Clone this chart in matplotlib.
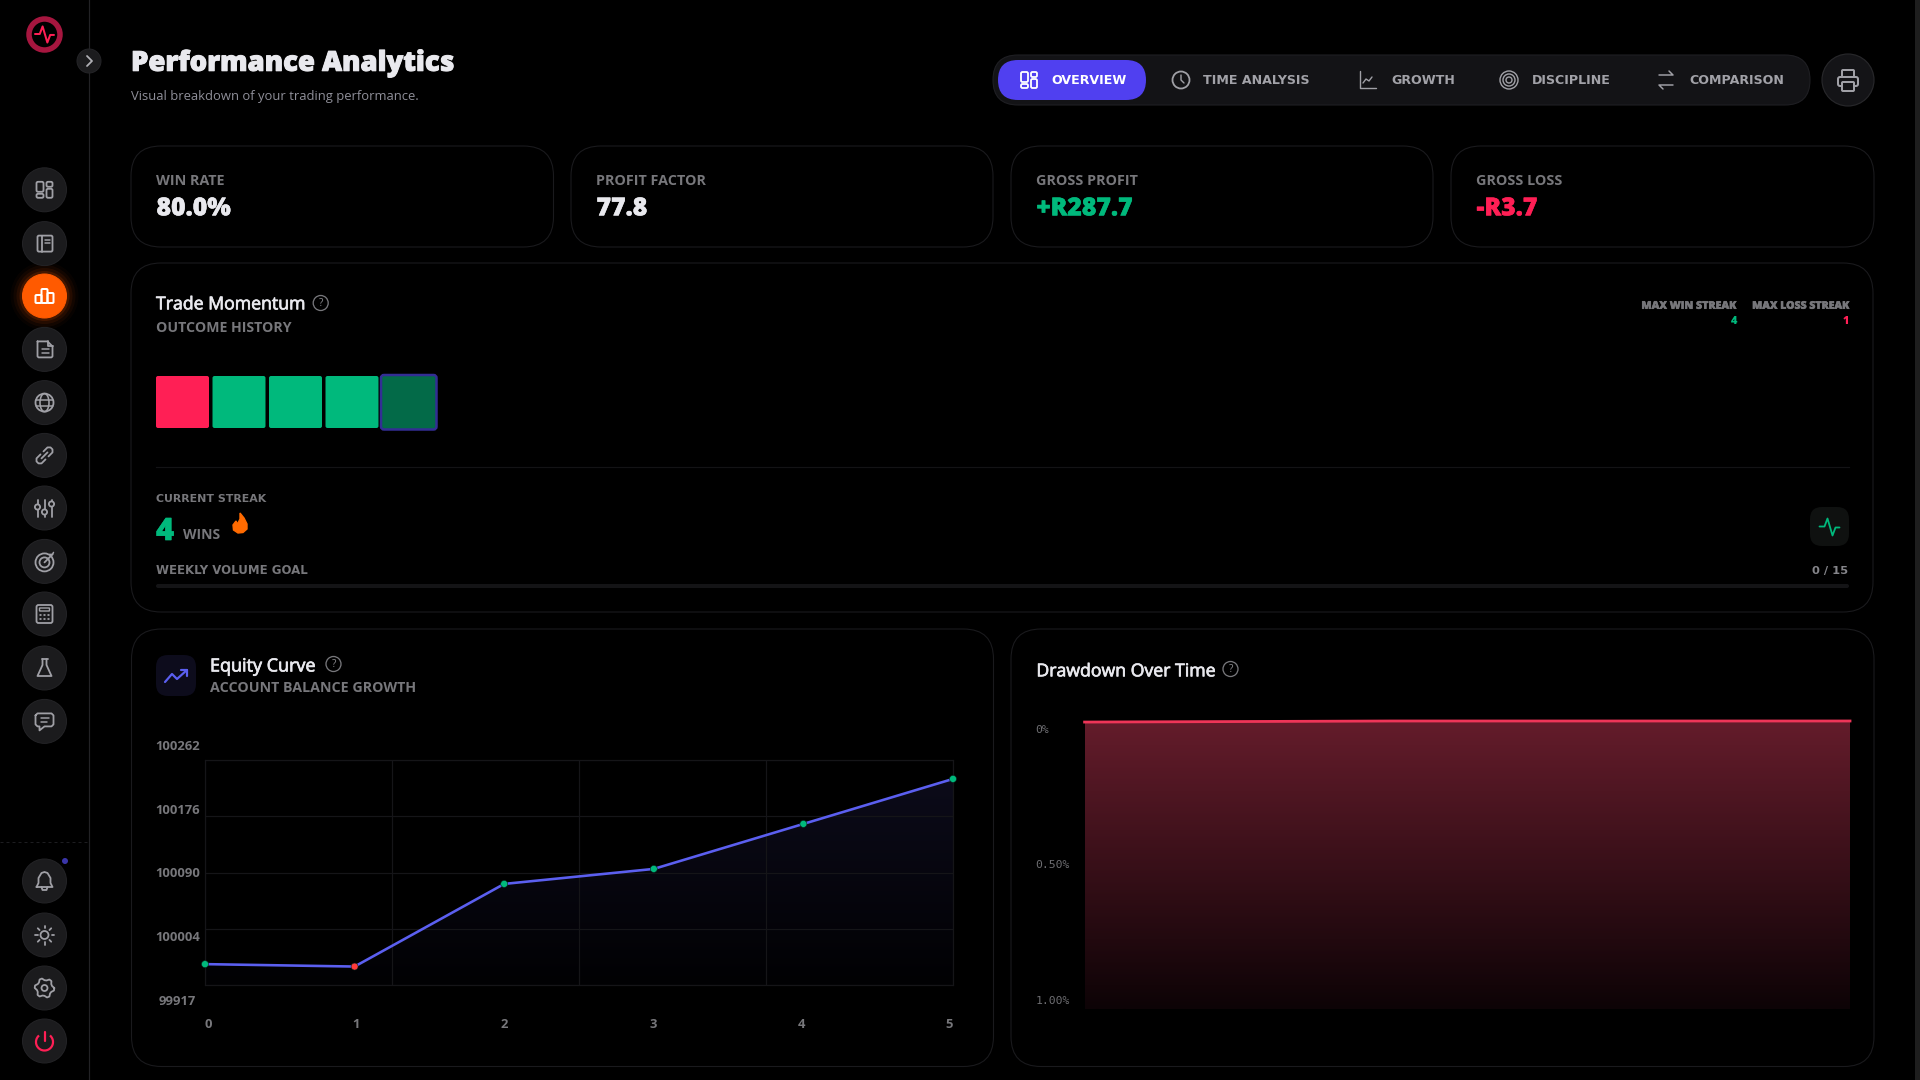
import numpy as np
import matplotlib
matplotlib.use('Agg')
import matplotlib.pyplot as plt
import matplotlib.patheffects as pe
from matplotlib.patches import FancyBboxPatch, Circle, Polygon, Arc, Ellipse

W, H = 1920, 1080
plt.rcParams['font.family'] = ['Open Sans', 'DejaVu Sans']

# chart data
equity_x = [0, 1, 2, 3, 4, 5]
equity_y = [100000, 99996.3, 100123, 100146, 100215, 100284]
equity_colors = ['#00b97c', '#ff3b3b', '#00b97c', '#00b97c', '#00b97c', '#00b97c']
equity_yticks = [99917, 100004, 100090, 100176, 100262]
drawdown_x = [0, 1, 2, 3, 4, 5]
drawdown_y = [0.0037, 0.0019, 0, 0, 0, 0]
drawdown_ticks = [0, 0.5, 1.0]
drawdown_labels = ['0%', '0.50%', '1.00%']
outcomes = ['L', 'W', 'W', 'W', 'W']
tabs = ['OVERVIEW', 'TIME ANALYSIS', 'GROWTH', 'DISCIPLINE', 'COMPARISON']
tab_left = [1051, 1203, 1391, 1531.5, 1689]
stat_labels = ['WIN RATE', 'PROFIT FACTOR', 'GROSS PROFIT', 'GROSS LOSS']
stat_values = ['80.0%', '77.8', '+R287.7', '-R3.7']

GREEN = '#00b97c'
RED = '#ff1f55'
INDIGO = '#5b5ff0'
BORDER = '#1a1a1d'
ICON = '#a0a0a6'
GREY = '#77777b'
WHITE = '#e9e9ee'
WIDE = 'DejaVu Sans'

fig = plt.figure(figsize=(19.2, 10.8), dpi=100, facecolor='black')
ax = fig.add_axes([0, 0, 1, 1])
ax.set_xlim(0, W)
ax.set_ylim(H, 0)
ax.axis('off')


def px(v):
    return v * 0.72


def box(x0, y0, x1, y1, r=30, fc='none', ec=BORDER, lw=1.1, z=2):
    p = FancyBboxPatch((x0, y0), x1 - x0, y1 - y0, boxstyle=f'round,pad=0,rounding_size={r}',
                       fc=fc, ec=ec, lw=px(lw), zorder=z)
    ax.add_patch(p)
    return p


def txt(x, yc, s, size, color=WHITE, weight='bold', ha='left', family=None, stroke=0):
    # yc is the middle of the capitals
    kw = {'family': family} if family else {}
    t = ax.text(x, yc + 0.357 * size, s, fontsize=px(size), color=color, fontweight=weight,
                ha=ha, va='baseline', zorder=6, **kw)
    if stroke:
        t.set_path_effects([pe.withStroke(linewidth=px(stroke), foreground=color)])
    return t


def line(cx, cy, pts, color=ICON, lw=1.8):
    a = np.array(pts, dtype=float)
    ax.plot(cx + a[:, 0], cy + a[:, 1], color=color, lw=px(lw), solid_capstyle='round',
            solid_joinstyle='round', zorder=5)


def circ(cx, cy, r, fc='none', ec=ICON, lw=1.8, z=5):
    ax.add_patch(Circle((cx, cy), r, fc=fc, ec=ec, lw=px(lw), zorder=z))


def rbox(cx, cy, x0, y0, x1, y1, r=2, color=ICON, lw=1.8, fc='none'):
    box(cx + x0, cy + y0, cx + x1, cy + y1, r=r, fc=fc, ec=color, lw=lw, z=5)


def ic_grid(c, y, col=ICON):
    rbox(c, y, -8, -8, -1, 2, 1.5, col)
    rbox(c, y, 2, -8, 8, -3, 1.5, col)
    rbox(c, y, -8, 4, -1, 8, 1.5, col)
    rbox(c, y, 2, -1, 8, 8, 1.5, col)


def ic_book(c, y):
    rbox(c, y, -7, -8, 8, 8, 1.5)
    line(c, y, [(-3, -8), (-3, 8)])
    line(c, y, [(0, -4), (5, -4)], lw=1.5)
    line(c, y, [(0, -1), (5, -1)], lw=1.5)


def ic_bars(c, y, col='white'):
    rbox(c, y, -9, -1, -3, 7, 1, col, 2)
    rbox(c, y, -3, -7, 3, 7, 1, col, 2)
    rbox(c, y, 3, -3, 9, 7, 1, col, 2)


def ic_doc(c, y):
    line(c, y, [(-7, -8), (3, -8), (8, -3), (8, 7), (7, 8), (-6, 8), (-7, 7), (-7, -8)])
    line(c, y, [(3, -8), (3, -3), (8, -3)])
    line(c, y, [(-3, 0), (4, 0)], lw=1.5)
    line(c, y, [(-3, 4), (4, 4)], lw=1.5)


def ic_globe(c, y):
    circ(c, y, 9)
    ax.add_patch(Ellipse((c, y), 9, 18, fc='none', ec=ICON, lw=px(1.6), zorder=5))
    line(c, y, [(-8.5, -3), (8.5, -3)], lw=1.5)
    line(c, y, [(-8.5, 3), (8.5, 3)], lw=1.5)


def ic_link(c, y):
    line(c, y, [(-1, -4), (3, -8), (6, -8), (8, -6), (8, -3), (4, 1)])
    line(c, y, [(1, 4), (-3, 8), (-6, 8), (-8, 6), (-8, 3), (-4, -1)])
    line(c, y, [(-3, 3), (3, -3)])


def ic_sliders(c, y):
    for dx, k in [(-7, -1), (0, 4), (7, -4)]:
        line(c, y, [(dx, -8), (dx, 9)])
        circ(c + dx, y + k, 2.6, fc='#1b1b1d')


def ic_target(c, y):
    circ(c, y + 1, 9)
    circ(c, y + 1, 5)
    line(c, y, [(0, 1), (8, -7)])
    line(c, y, [(5, -7), (8, -7), (9, -9)], lw=1.5)


def ic_calc(c, y):
    rbox(c, y, -8, -9, 8, 9, 2)
    rbox(c, y, -5, -6, 5, -3, 0.5, lw=1.4)
    for dx in (-4, 0, 4):
        for dy in (1, 5):
            circ(c + dx, y + dy, 0.8, fc=ICON, lw=0.5)


def ic_flask(c, y):
    line(c, y, [(-3, -9), (3, -9)])
    line(c, y, [(-2, -9), (-2, -3), (-7, 8), (7, 8), (2, -3), (2, -9)])


def ic_chat(c, y):
    line(c, y, [(-9, -6), (-7, -8), (7, -8), (9, -6), (9, 3), (7, 5), (0, 5), (-5, 9), (-5, 5), (-7, 5), (-9, 3), (-9, -6)])
    line(c, y, [(-4, -3), (4, -3)], lw=1.5)
    line(c, y, [(-4, 1), (2, 1)], lw=1.5)


def ic_bell(c, y):
    line(c, y, [(-8, 6), (-6, 2), (-6, -3), (-3, -8), (0, -9), (3, -8), (6, -3), (6, 2), (8, 6), (-8, 6)])
    line(c, y, [(-3, 6), (-2, 9), (2, 9), (3, 6)])


def ic_sun(c, y):
    circ(c, y, 4)
    for a in np.radians(np.arange(0, 360, 45)):
        line(c, y, [(7 * np.cos(a), 7 * np.sin(a)), (9.5 * np.cos(a), 9.5 * np.sin(a))])


def ic_gear(c, y):
    circ(c, y, 3)
    a = np.radians(np.arange(0, 375, 15))
    r = 8.8 + 1.0 * np.where(np.arange(len(a)) % 4 < 2, 1, -1)
    line(c, y, list(zip(r * np.cos(a), r * np.sin(a))))


def ic_power(c, y):
    ax.add_patch(Arc((c, y + 1), 17, 17, theta1=-50, theta2=230, ec=RED, lw=px(2.2), zorder=5))
    line(c, y, [(0, -9), (0, 0)], color=RED, lw=2.2)


def pulse(c, y, col, lw=2, s=1.0):
    pts = [(-10, 0), (-5, 0), (-2, -8), (3, 9), (6, 1), (10, 1)]
    line(c, y, [(a * s, b * s) for a, b in pts], color=col, lw=lw)


def help_icon(x, y):
    circ(x, y, 7.5, ec='#77777b', lw=1.3)
    ax.text(x, y + 0.3, '?', color='#8a8a8e', fontsize=px(10), ha='center', va='center', zorder=6)


# page chrome
ax.plot([89, 89], [0, H], color='#222225', lw=px(1.2), zorder=1)
ax.plot([0, 89], [842, 842], color='#1d1d20', lw=px(1), ls=(0, (3, 3)), zorder=1)
ax.fill_between([1915, 1919.7], 0, H, color='#1e1e1e', lw=0, zorder=1)

# logo + collapse button
circ(44.5, 34.5, 15.5, ec='#a6163f', lw=5.5)
pulse(44.5, 34, RED, lw=2, s=0.95)
circ(89, 61, 12, fc='#1c1c1e', ec='#242427', lw=1, z=3)
line(89, 61, [(-2, -5), (3, 0), (-2, 5)], color='#b0b0b5', lw=1.8)

# sidebar buttons
side_y = [189.8, 243.6, 296, 349.4, 402.6, 455.4, 508, 561.4, 614, 668, 721.4]
side_icons = [ic_grid, ic_book, ic_bars, ic_doc, ic_globe, ic_link, ic_sliders, ic_target, ic_calc, ic_flask, ic_chat]
for y, f in zip(side_y, side_icons):
    if f is ic_bars:
        for r, al in [(34, .03), (31, .05), (28, .08), (25, .14)]:
            ax.add_patch(Circle((44.5, y), r, fc='#ff5a00', ec='none', alpha=al, zorder=2))
        circ(44.5, y, 22, fc='#ff5a00', ec='#ff5a00', lw=1, z=3)
    else:
        circ(44.5, y, 22, fc='#1b1b1d', ec='#232326', lw=1, z=3)
    f(44.5, y)
for y, f in zip([881, 935, 988, 1041], [ic_bell, ic_sun, ic_gear, ic_power]):
    circ(44.5, y, 22, fc='#1b1b1d', ec='#232326', lw=1, z=3)
    f(44.5, y)
circ(65, 861, 3, fc='#3a35a8', ec='none', lw=0)

# heading
txt(131, 61, 'Performance Analytics', 27.5, color=WHITE, weight=800, stroke=1.0)
txt(131, 95, 'Visual breakdown of your trading performance.', 13, color='#8f8f99', weight='normal')

# tabs
box(993, 55, 1810, 105, r=25, fc='#131316', ec='#1f1f23', z=2)
box(998, 60, 1146, 100, r=20, fc='#5040f0', ec='none', z=3)
for i, (t, x) in enumerate(zip(tabs, tab_left)):
    txt(x, 80, t, 12.6, color='white' if i == 0 else '#a2a2a8', family=WIDE)
ic_grid(1029, 80, 'white')
circ(1181, 80, 8.5)
line(1181, 80, [(0, -5), (0, 0), (3, 3)], lw=1.4)
line(1368, 80, [(-8, -9), (-8, 8), (8, 8)], lw=1.4)
line(1368, 80, [(-5, 3), (-2, -1), (1, 1), (4, -3)], lw=1.4)
for r in (9, 6, 3):
    circ(1509, 80, r, lw=1.4)
line(1666, 75, [(-7, 0), (7, 0), (3, -4)], lw=1.5)
line(1666, 85, [(7, 0), (-7, 0), (-3, 4)], lw=1.5)
circ(1848, 80, 26, fc='#141417', ec='#27272a', lw=1.2, z=3)
rbox(1848, 80, -6, -10, 6, -3, 1, lw=2)
rbox(1848, 80, -10, -3, 10, 6, 2, lw=2)
rbox(1848, 80, -6, 2, 6, 11, 1, lw=2, fc='#141417')

# stat cards
stat_x = [(131, 553.5), (571, 993), (1011, 1433), (1451, 1874)]
stat_colors = [WHITE, WHITE, GREEN, RED]
for (x0, x1), lab, val, col in zip(stat_x, stat_labels, stat_values, stat_colors):
    box(x0, 146, x1, 247)
    txt(x0 + 25, 180, lab, 14.4, color=GREY)
    txt(x0 + 25.5, 206.5, val, 24.8, color=col, weight=800, stroke=0.5)

# momentum card
box(131, 263, 1873, 612)
txt(156, 303, 'Trade Momentum', 17.7, weight='normal', stroke=0.7)
help_icon(320.7, 303)
txt(156, 327, 'OUTCOME HISTORY', 14.1, color=GREY)
for i, o in enumerate(outcomes):
    x = 156 + 56.5 * i
    col = RED if o == 'L' else GREEN
    if i == len(outcomes) - 1:
        box(x - 1, 375, x + 54.5, 429.5, r=3, fc='#036a48', ec='#332e94', lw=2.5, z=3)
    else:
        box(x, 376, x + 53, 428, r=2, fc=col, ec='none', lw=0, z=3)
ax.plot([156, 1849], [467, 467], color='#131315', lw=px(1.2), zorder=2)
txt(156, 498, 'CURRENT STREAK', 11, color=GREY, family=WIDE)
txt(156, 529, '4', 31, color=GREEN, weight=800, stroke=0.4)
txt(183, 534, 'WINS', 14, color=GREY)
ax.add_patch(Polygon([(240, 513), (244, 518), (247, 524), (247, 529), (243, 532.5), (238, 533), (233.5, 530),
                      (233, 525), (236, 521), (237.5, 524), (240, 519)], fc='#ff6a00', ec='#ff6a00', lw=1, zorder=5))
txt(156, 570, 'WEEKLY VOLUME GOAL', 11.7, color=GREY, family=WIDE)
txt(1848, 570, '0 / 15', 11.5, color='#85858a', family=WIDE, ha='right')
box(156, 584, 1849, 588, r=2, fc='#141416', ec='none', lw=0)
txt(1737, 305, 'MAX WIN STREAK', 10.6, color=GREY, weight=800, ha='right', stroke=0.5)
txt(1849, 305, 'MAX LOSS STREAK', 10.5, color=GREY, weight=800, ha='right', stroke=0.5)
txt(1737, 320.5, '4', 11, color=GREEN, weight=800, ha='right')
txt(1849, 320.5, '1', 11, color=RED, weight=800, ha='right')
box(1810, 507, 1849, 546, r=12, fc='#0f1110', ec='none', lw=0)
pulse(1829.5, 526.5, GREEN, lw=1.8)

# equity card
box(131.5, 629, 993.5, 1066.5)
box(156, 655, 196, 696, r=12, fc='#0d0c1c', ec='none', lw=0)
line(176, 676, [(-11, 6), (-4, -2), (1, 3), (11, -6)], color=INDIGO, lw=2.2)
line(176, 676, [(5, -6), (11, -6), (11, 0)], color=INDIGO, lw=2.2)
txt(210, 665, 'Equity Curve', 18, weight='normal', stroke=0.7)
help_icon(333.5, 664)
txt(210, 687, 'ACCOUNT BALANCE GROWTH', 14.2, color=GREY)

# drawdown card
box(1011, 629, 1874, 1066.5)
txt(1036.4, 670, 'Drawdown Over Time', 17.7, weight='normal', stroke=0.7)
help_icon(1230.5, 669)


def sub_axes(x0, y0, x1, y1):
    a = fig.add_axes([x0 / W, 1 - y1 / H, (x1 - x0) / W, (y1 - y0) / H])
    a.patch.set_alpha(0)
    return a


def grad_fill(a, x, y, base, top_rgb, bottom_rgb):
    # vertical gradient clipped to the area under the line
    poly = a.fill_between(x, y, base, color='none', lw=0)
    g = np.linspace(0, 1, 256)[:, None, None]
    img = np.array(top_rgb)[None, None, :] * (1 - g) + np.array(bottom_rgb)[None, None, :] * g
    top = max(y) if base < min(y) else min(y)
    im = a.imshow(img / 255, extent=[min(x), max(x), base, top], aspect='auto', zorder=1, origin='upper')
    im.set_clip_path(poly.get_paths()[0], a.transData)


# equity chart
eq = sub_axes(205, 760, 953, 985)
grad_fill(eq, equity_x, equity_y, 99968, (12, 11, 26), (1, 1, 3))
eq.set_xlim(0, 5)
eq.set_ylim(99968, 100313)
eq.set_xticks(np.linspace(0, 5, 5))
eq.set_yticks(np.linspace(99968, 100313, 5))
eq.tick_params(length=0, labelbottom=False, labelleft=False)
eq.grid(True, color='#151518', lw=px(1.2))
eq.set_axisbelow(False)
for s in eq.spines.values():
    s.set_color('#151518')
    s.set_linewidth(px(1.2))
eq.plot(equity_x, equity_y, color=INDIGO, lw=px(2.6), zorder=3, clip_on=False)
eq.scatter(equity_x, equity_y, c=equity_colors, s=px(7) ** 2, edgecolors='#06201a', linewidths=0.4, zorder=4, clip_on=False)

# equity axis labels sit apart from the grid
eq_lab = sub_axes(208, 745, 949.5, 1000)
eq_lab.set_xlim(0, 5)
eq_lab.set_ylim(min(equity_yticks), max(equity_yticks))
eq_lab.set_xticks(equity_x)
eq_lab.set_yticks(equity_yticks)
eq_lab.set_yticklabels([str(v) for v in equity_yticks], ha='center')
eq_lab.tick_params(length=0, labelsize=px(13), labelcolor=GREY)
eq_lab.tick_params(axis='y', pad=px(30.5))
eq_lab.tick_params(axis='x', pad=px(18.5))
for l in eq_lab.get_xticklabels() + eq_lab.get_yticklabels():
    l.set_fontweight('bold')
for s in eq_lab.spines.values():
    s.set_visible(False)

# drawdown chart
dd = sub_axes(1084.6, 721, 1850, 1009)
grad_fill(dd, drawdown_x, drawdown_y, 1, (100, 28, 43), (13, 3, 6))
dd.set_xlim(0, 5)
dd.set_ylim(1, 0)
dd.plot(drawdown_x, drawdown_y, color='#ee3558', lw=px(2.8), clip_on=False, zorder=3)
dd.axis('off')

dd_lab = sub_axes(1084.6, 729, 1850, 1000)
dd_lab.set_ylim(1, 0)
dd_lab.set_xticks([])
dd_lab.set_yticks(drawdown_ticks)
dd_lab.set_yticklabels(drawdown_labels, ha='left', family='DejaVu Sans Mono')
dd_lab.tick_params(length=0, labelsize=px(11.5), labelcolor='#6d6d71', pad=px(49))
for s in dd_lab.spines.values():
    s.set_visible(False)

fig.savefig('out.png', dpi=100, facecolor='black')
